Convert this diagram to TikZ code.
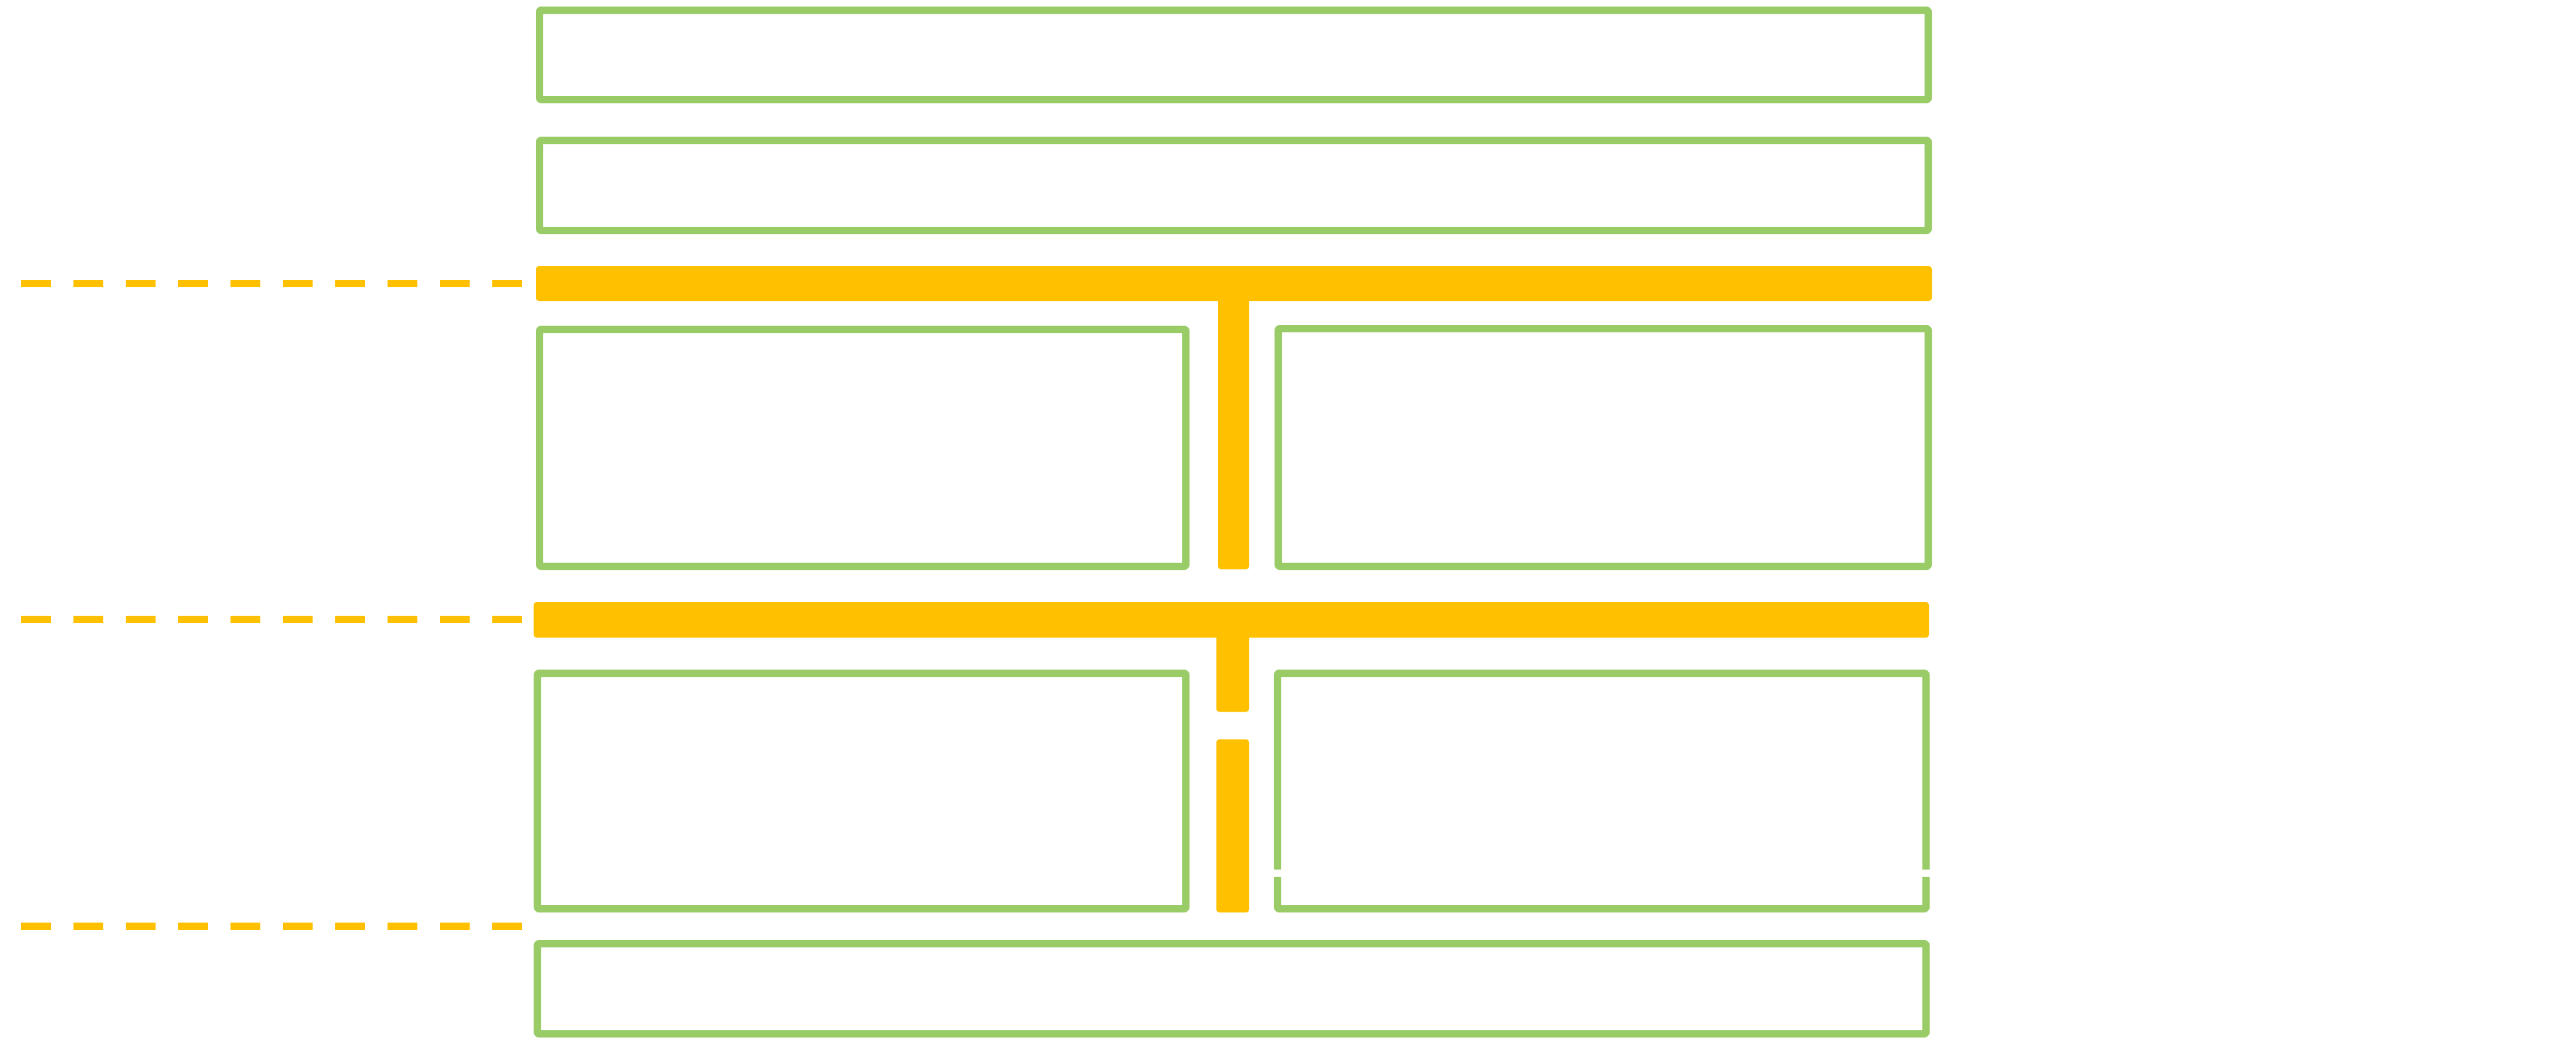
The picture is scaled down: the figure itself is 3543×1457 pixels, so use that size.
\documentclass[tikz,border=0pt]{standalone}
\definecolor{boxgreen}{RGB}{153,203,103}
\definecolor{bargold}{RGB}{255,192,0}
\begin{document}
\begin{tikzpicture}[x=0.01cm,y=-0.01cm, line join=round,
		box/.style={draw=boxgreen,line width=0.1cm,rounded corners=0.02cm},
		bar/.style={fill=bargold,rounded corners=0.04cm},
		guide/.style={draw=bargold,line width=0.1cm,dash pattern=on 0.41cm off 0.31cm}]
		\useasboundingbox (0,0) rectangle (3543,1457);
		% header rows
		\draw[box] (742,14) rectangle (2652,137);
		\draw[box] (742,193) rectangle (2652,317);
		% first bar with its stem
		\fill[bar] (737,366) rectangle (2657,414);
		\fill[bar] (1675,400) rectangle (1718,783);
		\draw[box] (742,453) rectangle (1631,779);
		\draw[box] (1758,452) rectangle (2652,779);
		% second bar, stem broken in two
		\fill[bar] (734,828) rectangle (2653,877);
		\fill[bar] (1673,860) rectangle (1718,979);
		\fill[bar] (1673,1017) rectangle (1718,1255);
		\draw[box] (739,926) rectangle (1631,1250);
		\draw[box] (1757,1196) -- (1757,926) -- (2649,926) -- (2649,1196);
		\draw[box] (1757,1206) -- (1757,1250) -- (2649,1250) -- (2649,1206);
		% footer
		\draw[box] (739,1298) rectangle (2649,1422);
		% dashed guides on the left
		\draw[guide] (29,390) -- (722,390);
		\draw[guide] (29,852) -- (722,852);
		\draw[guide] (29,1274) -- (722,1274);
\end{tikzpicture}
\end{document}
